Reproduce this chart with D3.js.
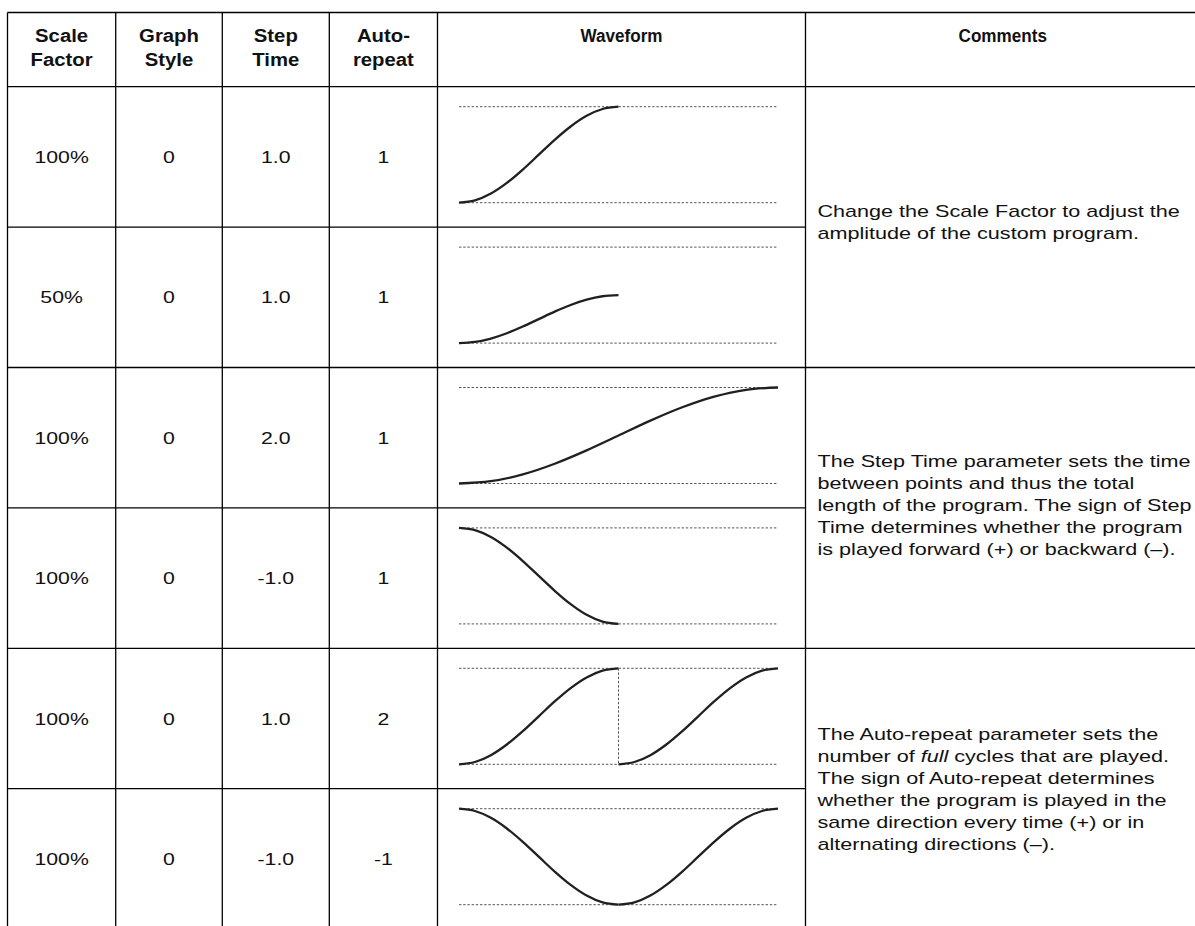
<!DOCTYPE html>
<html>

    <head>
        <meta charset="utf-8">
        <title>Custom Program Parameters</title>
        <script src="https://d3js.org/d3.v7.min.js"></script>
        <style>
            body { margin: 0; background: #fff; }
            text { font-family: "Liberation Sans", Arial, Helvetica, sans-serif; fill: #111; }
        </style>
    </head>

    <body>
        <div id="chart-container"></div>

        <script>
            // Table values, one array per column
            const headers = [ [ "Scale", "Factor" ], [ "Graph", "Style" ], [ "Step", "Time" ], [ "Auto-", "repeat" ], [ "Waveform" ], [ "Comments" ] ];
            const scaleFactors = [ "100%", "50%", "100%", "100%", "100%", "100%" ];
            const graphStyles = [ "0", "0", "0", "0", "0", "0" ];
            const stepTimes = [ "1.0", "1.0", "2.0", "-1.0", "1.0", "-1.0" ];
            const autoRepeats = [ "1", "1", "1", "1", "2", "-1" ];

            // The custom program (one pass)
            const programValues = [ 0, 0.024, 0.095, 0.206, 0.345, 0.5, 0.655, 0.794, 0.905, 0.976, 1 ];

            // Comments span two rows each
            const commentRows = [ [ 0, 1 ], [ 2, 3 ], [ 4, 5 ] ];
            const commentLines = [
                [ "Change the Scale Factor to adjust the", "amplitude of the custom program." ],
                [ "The Step Time parameter sets the time", "between points and thus the total", "length of the program. The sign of Step", "Time determines whether the program", "is played forward (+) or backward (\u2013)." ],
                [ "The Auto-repeat parameter sets the", "number of _full_ cycles that are played.", "The sign of Auto-repeat determines", "whether the program is played in the", "same direction every time (+) or in", "alternating directions (\u2013)." ]
            ];

            // Layout
            const width = 1195;
            const height = 926;
            const colEdges = [ 7.5, 115.7, 222.3, 329.3, 437.5, 805.5, 1200 ];
            const headerTop = 12.5;
            const headerBottom = 86.7;
            const rowH = 140.4;
            const nRows = scaleFactors.length;
            const rowTop = i => headerBottom + i * rowH;
            const colMid = c => ( colEdges[ c ] + colEdges[ c + 1 ] ) / 2;
            const commentShift = [ -5, -3, 0 ];

            const svg = d3.select( "#chart-container" )
                .append( "svg" )
                .attr( "width", width )
                .attr( "height", height );

            const grid = svg.append( "g" ).attr( "stroke", "#000" ).attr( "stroke-width", 1.3 );

            // outer top line and column lines
            grid.append( "line" ).attr( "x1", colEdges[ 0 ] ).attr( "x2", width ).attr( "y1", headerTop ).attr( "y2", headerTop );
            grid.selectAll( ".vline" )
                .data( colEdges.slice( 0, 6 ) )
                .enter()
                .append( "line" )
                .attr( "x1", d => d ).attr( "x2", d => d )
                .attr( "y1", headerTop ).attr( "y2", height );

            // horizontal row lines; the comments column is merged over pairs of rows
            grid.selectAll( ".hline" )
                .data( d3.range( 0, nRows ) )
                .enter()
                .append( "line" )
                .attr( "x1", colEdges[ 0 ] )
                .attr( "x2", d => d % 2 === 1 ? colEdges[ 5 ] : width )
                .attr( "y1", d => rowTop( d ) ).attr( "y2", d => rowTop( d ) );

            // text drawn slightly wider than the font, like the source
            function stretchedText ( x, y, size, sx, anchor )
            {
                return svg.append( "text" )
                    .attr( "transform", `translate(${ x },${ y }) scale(${ sx },1)` )
                    .attr( "text-anchor", anchor )
                    .attr( "font-size", size );
            }

            // header text
            headers.forEach( ( lines, c ) =>
            {
                const lh = 24;
                const size = 19;
                const sx = lines.length === 2 ? 1.07 : 0.9;
                lines.forEach( ( s, k ) =>
                {
                    stretchedText( colMid( c ), 35.5 + k * lh + size * 0.36, size, sx, "middle" )
                        .attr( "font-weight", "bold" )
                        .text( s );
                } );
            } );

            // value cells
            const cellSize = 17;
            [ scaleFactors, graphStyles, stepTimes, autoRepeats ].forEach( ( col, c ) =>
            {
                col.forEach( ( d, i ) =>
                {
                    stretchedText( colMid( c ), rowTop( i ) + rowH / 2 + cellSize * 0.36, cellSize, 1.25, "middle" )
                        .text( d );
                } );
            } );

            // waveforms
            const x = d3.scaleLinear().domain( [ 0, 2 ] ).range( [ 459, 778 ] );
            const line = d3.line()
                .x( d => x( d.t ) )
                .curve( d3.curveMonotoneX );

            for ( let i = 0; i < nRows; i++ )
            {
                const top = rowTop( i );
                const y = d3.scaleLinear().domain( [ 0, 1 ] ).range( [ top + 116, top + 20 ] );
                const g = svg.append( "g" );

                // dotted min / max guides
                g.selectAll( ".guide" )
                    .data( [ 0, 1 ] )
                    .enter()
                    .append( "line" )
                    .attr( "x1", x( 0 ) ).attr( "x2", x( 2 ) )
                    .attr( "y1", d => y( d ) ).attr( "y2", d => y( d ) )
                    .attr( "stroke", "#555" )
                    .attr( "stroke-width", 1 )
                    .attr( "stroke-dasharray", "2.4,1.8" );

                const scale = parseFloat( scaleFactors[ i ] ) / 100;
                const step = parseFloat( stepTimes[ i ] );
                const rep = parseInt( autoRepeats[ i ] );
                const passes = rep < 0 ? 2 * Math.abs( rep ) : rep;
                const n = programValues.length;
                let prevEnd = null;

                for ( let p = 0; p < passes; p++ )
                {
                    let forward = step > 0;
                    if ( rep < 0 && p % 2 === 1 ) forward = !forward;
                    const t0 = p * Math.abs( step );
                    const pts = programValues.map( ( v, k ) => ( {
                        t: t0 + k / ( n - 1 ) * Math.abs( step ),
                        v: scale * programValues[ forward ? k : n - 1 - k ]
                    } ) );

                    // a jump between passes is drawn as a dotted vertical line
                    if ( prevEnd !== null && prevEnd.v !== pts[ 0 ].v )
                    {
                        g.append( "line" )
                            .attr( "x1", x( t0 ) ).attr( "x2", x( t0 ) )
                            .attr( "y1", y( prevEnd.v ) ).attr( "y2", y( pts[ 0 ].v ) )
                            .attr( "stroke", "#555" )
                            .attr( "stroke-width", 1 )
                            .attr( "stroke-dasharray", "2.4,1.8" );
                    }
                    prevEnd = pts[ n - 1 ];

                    g.append( "path" )
                        .attr( "d", line.y( d => y( d.v ) )( pts ) )
                        .attr( "fill", "none" )
                        .attr( "stroke", "#231f20" )
                        .attr( "stroke-width", 2.3 );
                }
            }

            // comments in their merged cells
            const commentSize = 17;
            const commentLh = 22;
            commentRows.forEach( ( r, j ) =>
            {
                const mid = ( rowTop( r[ 0 ] ) + rowTop( r[ 1 ] + 1 ) ) / 2 + commentShift[ j ];
                const lines = commentLines[ j ];
                const first = mid - ( lines.length - 1 ) * commentLh / 2;
                lines.forEach( ( s, k ) =>
                {
                    const t = stretchedText( colEdges[ 5 ] + 12, first + k * commentLh + commentSize * 0.36, commentSize, 1.27, "start" );
                    // words between underscores are set in italic
                    s.split( "_" ).forEach( ( part, q ) =>
                    {
                        t.append( "tspan" )
                            .attr( "font-style", q % 2 === 1 ? "italic" : "normal" )
                            .text( part );
                    } );
                } );
            } );
        </script>
    </body>

</html>
